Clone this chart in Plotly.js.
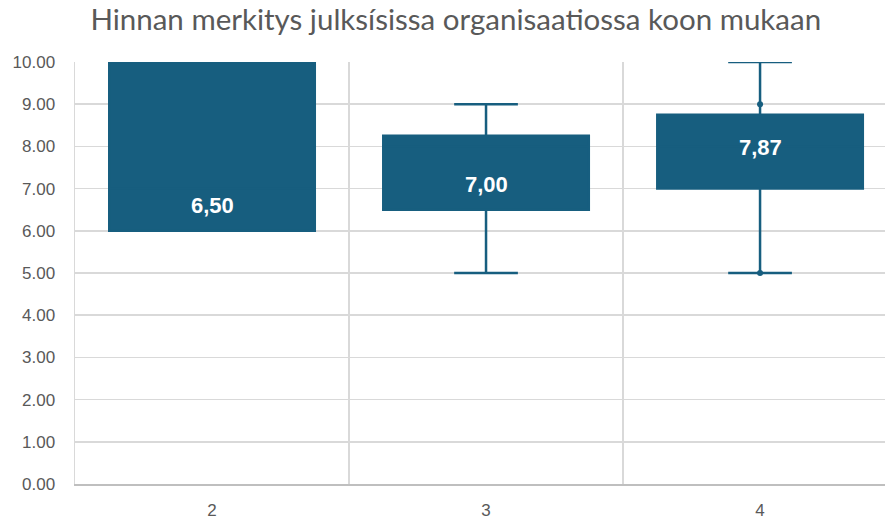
<!DOCTYPE html>
<html>
<head>
<meta charset="utf-8">
<script src="https://cdn.plot.ly/plotly-3.0.1.min.js"></script>
<style>html,body{margin:0;padding:0;background:#fff;}#chart{width:885px;height:521px;}</style>
</head>
<body>
<div id="chart"></div>
<script>
const categories = ["2", "3", "4"];
const q1Values = [6.0, 6.5, 7.0];
const medianValues = [7.0, 8.0, 8.0];
const q3Values = [10.0, 8.25, 8.75];
const lowerWhisker = [6.0, 5.0, 5.0];
const upperWhisker = [10.0, 9.0, 10.0];
const meanValues = [6.50, 7.00, 7.87];
const meanLabels = ["6,50", "7,00", "7,87"];
const pointCategories = ["4", "4"];
const pointValues = [9.0, 5.0];
const yTicks = [0,1,2,3,4,5,6,7,8,9,10];

const mainColor = "#175E7F";

const traces = [
  {
    type: "box",
    x: categories,
    q1: q1Values,
    median: medianValues,
    q3: q3Values,
    lowerfence: lowerWhisker,
    upperfence: upperWhisker,
    fillcolor: mainColor,
    line: {color: mainColor, width: 2.5},
    whiskerwidth: 0.31,
    width: 0.75,
    boxpoints: false,
    hoverinfo: "skip",
    showlegend: false
  },
  {
    type: "scatter",
    mode: "markers",
    x: pointCategories,
    y: pointValues,
    marker: {color: mainColor, size: 6},
    hoverinfo: "skip",
    showlegend: false
  }
];

const annotations = categories.map((c, i) => ({
  x: i, y: meanValues[i], xref: "x", yref: "y",
  text: "<b>" + meanLabels[i] + "</b>",
  showarrow: false,
  yshift: 4,
  font: {family: "Liberation Sans, Arial, sans-serif", size: 22, color: "#ffffff"}
}));

const layout = {
  width: 885,
  height: 521,
  margin: {l: 75, r: 0, t: 62, b: 37, pad: 0},
  paper_bgcolor: "#ffffff",
  plot_bgcolor: "#ffffff",
  title: {
    text: "Hinnan merkitys julksísissa organisaatiossa koon mukaan",
    font: {family: "Lato, 'Open Sans', sans-serif", size: 29.5, color: "#595959"},
    x: 0.515, xanchor: "center",
    y: 0.962, yanchor: "middle", yref: "container"
  },
  xaxis: {
    type: "category",
    categoryarray: categories,
    range: [-0.5, 2.456],
    tickson: "boundaries",
    showgrid: true,
    gridcolor: "#d9d9d9",
    gridwidth: 1.5,
    showline: true,
    linecolor: "#bfbfbf",
    linewidth: 1.5,
    ticks: "",
    ticklabelstandoff: 10,
    tickfont: {family: "Liberation Sans, Arial, sans-serif", size: 17, color: "#595959"},
    zeroline: false,
    fixedrange: true
  },
  yaxis: {
    range: [0, 10],
    tickvals: yTicks,
    tickformat: ".2f",
    showgrid: true,
    gridcolor: "#d9d9d9",
    gridwidth: 1.5,
    showline: true,
    linecolor: "#d9d9d9",
    linewidth: 1.5,
    zeroline: false,
    ticks: "",
    ticklabelstandoff: 15,
    tickfont: {family: "Liberation Sans, Arial, sans-serif", size: 17, color: "#595959"},
    fixedrange: true
  },
  annotations: annotations
};

Plotly.newPlot("chart", traces, layout, {displayModeBar: false, staticPlot: true});
</script>
</body>
</html>
